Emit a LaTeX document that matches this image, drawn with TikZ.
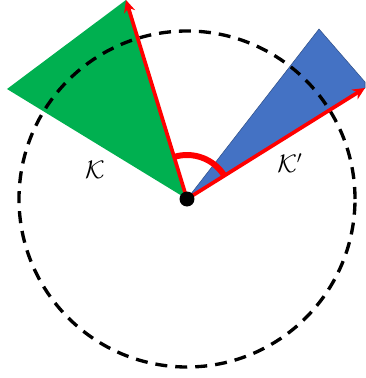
\documentclass[tikz,border=0pt]{standalone}
\usetikzlibrary{arrows.meta}
\definecolor{conegreen}{RGB}{0,176,80}
\definecolor{coneblue}{RGB}{68,114,196}
\tikzset{
  ray/.style={draw=red, line width=2.1pt, -{Stealth[length=7pt,width=6.5pt]}},
  bound/.style={black, line width=1.9pt, dash pattern=on 0.24cm off 0.16cm}
}
\begin{document}
\begin{tikzpicture}
            \useasboundingbox (-3.74,-3.58) rectangle (3.56,3.98);
            \coordinate (O) at (0,0);
            \coordinate (gtop) at (-1.22,3.98);
            \coordinate (gleft) at (-3.6,2.2);
            \coordinate (btop) at (2.64,3.40);
            \coordinate (bright) at (3.56,2.34);
            \coordinate (bend) at (3.56,2.22);

            \fill[conegreen] (O)--(gleft)--(gtop)--cycle;
            \fill[coneblue, draw=coneblue!70!black, line width=0.3pt] (O)--(btop)--(bright)--(bend)--cycle;
            \draw[bound] (O) circle (3.36);

            \draw[ray] (O)--(gtop);
            \draw[ray] (O)--(bend);
            \draw[red, line width=3.4pt] (O) ++(32:0.88) arc (32:107:0.88);
            \fill[black] (O) circle (0.15);

            \node[font=\Large] (K) at (-1.84,0.58) {$\mathcal{K}$};
            \node[font=\Large] (Kp) at (2.06,0.72) {$\mathcal{K}'$};
        \end{tikzpicture}
\end{document}
